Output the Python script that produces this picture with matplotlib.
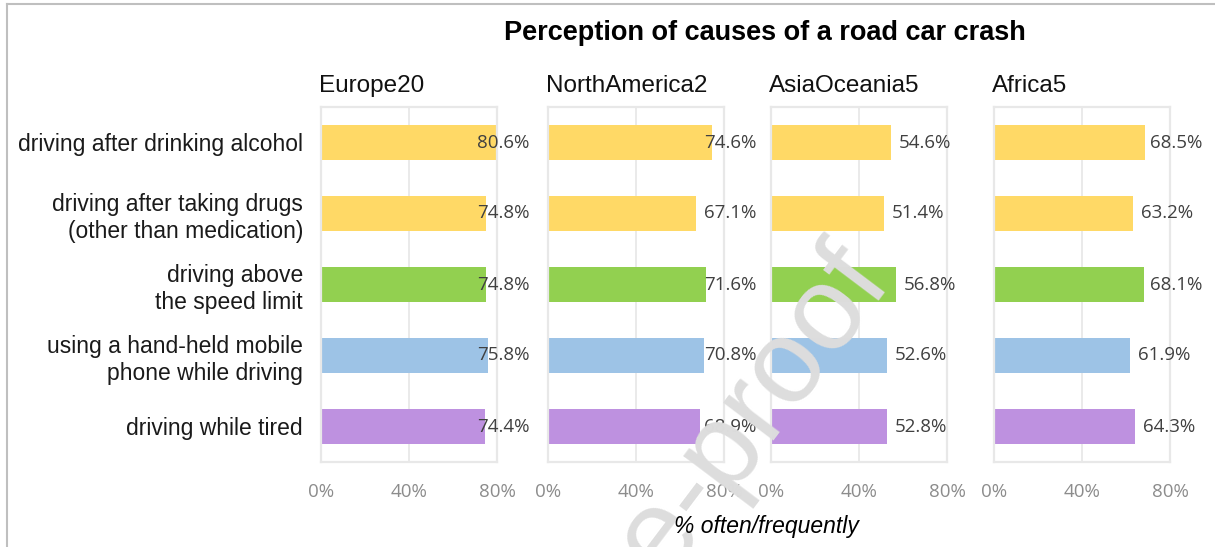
import matplotlib.pyplot as plt
from matplotlib.lines import Line2D

# Data
causes = [
    "driving after drinking alcohol",
    "driving after taking drugs\n(other than medication)",
    "driving above\nthe speed limit",
    "using a hand-held mobile\nphone while driving",
    "driving while tired",
]
regions = ["Europe20", "NorthAmerica2", "AsiaOceania5", "Africa5"]
europe = [80.6, 74.8, 74.8, 75.8, 74.4]
north_america = [74.6, 67.1, 71.6, 70.8, 68.9]
asia_oceania = [54.6, 51.4, 56.8, 52.6, 52.8]
africa = [68.5, 63.2, 68.1, 61.9, 64.3]
bar_colors = ["#FFD966", "#FFD966", "#92D050", "#9DC3E6", "#BE91E0"]
tick_values = [0, 40, 80]
tick_labels = ["0%", "40%", "80%"]

series = [europe, north_america, asia_oceania, africa]

W, H = 1215, 547
fig = plt.figure(figsize=(W / 100, H / 100), dpi=100)

label_font = "Liberation Sans"
num_font = "Open Sans"
grid_col = "#E8E8E8"

lefts = [321, 548, 771, 994]
ax_w = 176
ax_top, ax_bot = 107, 462

for i, (name, vals, left) in enumerate(zip(regions, series, lefts)):
    ax = fig.add_axes([left / W, 1 - ax_bot / H, ax_w / W, (ax_bot - ax_top) / H])
    y = list(range(len(vals)))
    bars = ax.barh(y, vals, height=0.48, color=bar_colors, zorder=2)
    for b in bars:
        b.set_clip_on(False)
    ax.set_xlim(0, 80)
    ax.set_ylim(len(vals) - 0.5, -0.5)
    ax.axvline(40, color=grid_col, lw=1.3, zorder=1)
    for s in ax.spines.values():
        s.set_color(grid_col)
        s.set_linewidth(1.6)
    ax.set_xticks(tick_values)
    ax.set_xticklabels(tick_labels, fontfamily=num_font, fontsize=13.5, color="#8C8C8C")
    ax.tick_params(axis="x", length=0, pad=15)
    ax.set_yticks(y)
    if i == 0:
        ax.set_yticklabels(causes, fontfamily=label_font, fontsize=16.5, color="#1a1a1a", ha="right")
        ax.tick_params(axis="y", length=0, pad=13)
    else:
        ax.set_yticklabels([])
        ax.tick_params(axis="y", length=0)

    # value labels, pushed back inside when they would run past the panel
    for yy, v in zip(y, vals):
        x = min(v + 3.6, 71.0)
        ax.text(x, yy, f"{v:.1f}%", ha="left", va="center", fontfamily=num_font,
                fontsize=13.5, color="#404040", zorder=3, clip_on=False)

    fig.text((left - 2) / W, 1 - 86 / H, name, ha="left", va="center",
             fontfamily=label_font, fontsize=17.5, color="#111111")

fig.text(765 / W, 1 - 33 / H, "Perception of causes of a road car crash", ha="center",
         va="center", fontfamily=label_font, fontsize=19.5, fontweight="bold")
fig.text(766 / W, 1 - 526 / H, "% often/frequently", ha="center", va="center",
         fontfamily=label_font, fontsize=16.5, style="italic", zorder=20)

# outer frame (only left and top visible in the crop)
fig.add_artist(Line2D([7 / W, 7 / W], [0, 1 - 4 / H], color="#BFBFBF", lw=1.5))
fig.add_artist(Line2D([7 / W, 1], [1 - 4 / H, 1 - 4 / H], color="#BFBFBF", lw=1.5))

# watermark
fig.text(893 / W, 1 - 282 / H, "Journal Pre-proof", rotation=53, rotation_mode="anchor",
         ha="right", va="baseline", fontfamily=label_font, fontsize=86,
         color="#DDDDDD", zorder=10)

fig.savefig("out.png", dpi=100)
